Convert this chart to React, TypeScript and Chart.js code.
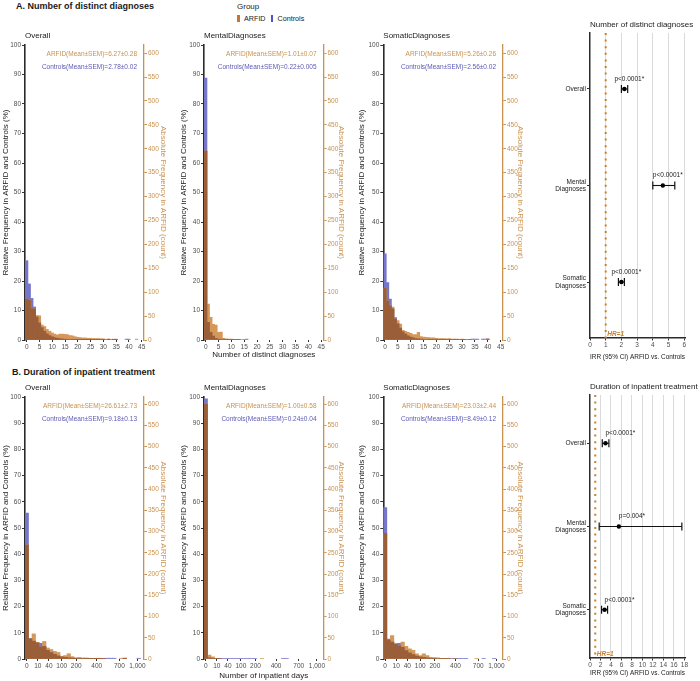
import React, { useEffect, useRef } from 'react';
import { Chart, registerables } from 'chart.js';

Chart.register(...registerables);

const FONT = '"Liberation Sans", Arial, Helvetica, sans-serif';
Chart.defaults.font.family = FONT;

// ---------------- categories / ticks ----------------
const countBins = Array.from({ length: 46 }, (_, i) => i); // number of distinct diagnoses (bin centres)
const countTicks = [0, 5, 10, 15, 20, 25, 30, 35, 40, 45];
const sqrtDayBins = Array.from({ length: 34 }, (_, i) => i); // bin centres on the sqrt(days) axis
const dayTickLabels = [0, 10, 40, 100, 200, 400, 700, 1000];
const relTicks = [0, 10, 20, 30, 40, 50, 60, 70, 80, 90, 100];
const absTicks = [0, 50, 100, 150, 200, 250, 300, 350, 400, 450, 500, 550, 600];
const ARFID_N = 617;

const panelTitles = ['Overall', 'MentalDiagnoses', 'SomaticDiagnoses'];
const countArfidStats = ['6.27±0.28', '1.01±0.07', '5.26±0.26'];
const countControlStats = ['2.78±0.02', '0.22±0.005', '2.56±0.02'];
const dayArfidStats = ['26.61±2.73', '1.00±0.58', '23.03±2.44'];
const dayControlStats = ['9.18±0.13', '0.24±0.04', '8.49±0.12'];

// ---------------- A: number of distinct diagnoses (% per bin) ----------------
const overallCountArfid = [13.9, 13.5, 10.6, 10.5, 8.3, 8.2, 5.1, 4.6, 3.6, 3.0, 2.4, 2.0, 1.7, 2.0, 2.0, 1.9, 1.8, 1.5, 1.4, 1.1, 0.9, 0.8, 0.7, 0.7, 0.6, 0.6, 0.5, 0.5, 0.5, 0.4, 0.4, 0, 0.4, 0, 0.3, 0.3, 0, 0, 0, 0, 0, 0, 0, 0.3, 0, 0];
const overallCountControls = [26.9, 19.0, 14.1, 11.2, 7.8, 5.8, 4.2, 3.0, 2.1, 1.5, 1.1, 0.8, 0.6, 0.45, 0.35, 0.28, 0.22, 0.18, 0.14, 0.11, 0.09, 0.07, 0.06, 0.05, 0.04, 0.04, 0.03, 0.03, 0.02, 0.02, 0.02, 0.02, 0.01, 0.01, 0.01, 0.01, 0, 0, 0, 0.3, 0.3, 0, 0, 0, 0, 0];
const mentalCountArfid = [64.0, 12.2, 7.7, 5.3, 5.1, 2.6, 2.7, 0.6, 0.4, 0.3, 0.3, 0.2, 0.2, 0.2, 0.2, 0, 0, 0, 0, 0, 0, 0, 0, 0, 0, 0, 0, 0, 0, 0, 0, 0, 0, 0, 0, 0, 0, 0, 0, 0, 0, 0, 0, 0, 0, 0];
const mentalCountControls = [88.8, 6.0, 2.6, 1.3, 0.6, 0.3, 0.15, 0.08, 0.05, 0.03, 0.02, 0.01, 0.01, 0.01, 0, 0.01, 0.3, 0, 0, 0, 0, 0, 0, 0, 0, 0, 0, 0, 0, 0, 0, 0, 0, 0, 0, 0, 0, 0, 0, 0, 0, 0, 0, 0, 0, 0];
const somaticCountArfid = [17.6, 13.3, 11.6, 11.2, 7.1, 6.6, 5.4, 3.3, 2.9, 2.6, 2.3, 1.8, 1.8, 2.6, 1.2, 1.0, 0.9, 0.8, 0.7, 0.7, 0.6, 0.5, 0.5, 0.5, 0.4, 0.5, 0.3, 0.3, 0.3, 0.2, 0.3, 0.2, 0, 0.2, 0, 0, 0, 0, 0, 0, 0.3, 0, 0, 0, 0, 0];
const somaticCountControls = [29.2, 19.5, 13.9, 10.6, 7.6, 5.5, 4.0, 2.8, 2.0, 1.4, 1.0, 0.7, 0.5, 0.4, 0.3, 0.22, 0.16, 0.12, 0.09, 0.07, 0.05, 0.04, 0.03, 0.03, 0.02, 0.02, 0.02, 0.01, 0.01, 0.01, 0.01, 0.01, 0.01, 0.01, 0.3, 0.3, 0.3, 0, 0.3, 0.3, 0.3, 0, 0, 0, 0, 0];

// ---------------- B: inpatient days (% per sqrt-bin) ----------------
const overallDaysArfid = [43.5, 7.6, 9.6, 6.3, 4.6, 6.7, 4.2, 3.6, 2.9, 2.5, 1.0, 1.3, 2.0, 0.9, 0.5, 0.6, 0.4, 0.4, 0.3, 0.2, 0.3, 0.3, 0.2, 0, 0, 0, 0, 0.3, 0.3, 0, 0, 0, 0, 0];
const overallDaysControls = [55.7, 7.9, 6.8, 6.2, 6.0, 4.8, 3.3, 2.5, 1.8, 1.2, 0.8, 0.6, 0.45, 0.35, 0.25, 0.2, 0.15, 0.12, 0.1, 0.08, 0.06, 0.05, 0.04, 0.3, 0.3, 0.3, 0, 0, 0.3, 0, 0, 0, 0.3, 0];
const mentalDaysArfid = [97.2, 1.5, 0.8, 0.3, 0.2, 0, 0, 0, 0, 0, 0, 0, 0, 0, 0, 0, 0.3, 0, 0, 0, 0, 0, 0, 0, 0, 0, 0, 0, 0, 0, 0, 0, 0, 0];
const mentalDaysControls = [99.3, 0.4, 0.15, 0.06, 0.03, 0.3, 0.3, 0.3, 0.3, 0.3, 0.3, 0.3, 0.3, 0.3, 0.3, 0, 0, 0, 0, 0, 0, 0, 0.3, 0.3, 0, 0, 0, 0, 0, 0, 0, 0, 0, 0];
const somaticDaysArfid = [48.0, 7.2, 8.9, 5.7, 5.0, 6.5, 4.8, 3.9, 3.3, 2.0, 1.3, 2.0, 1.3, 0.6, 0.5, 0.4, 0.3, 0.3, 0.2, 0, 0.2, 0, 0, 0, 0, 0, 0.3, 0, 0, 0, 0, 0, 0, 0];
const somaticDaysControls = [57.8, 7.6, 6.5, 5.8, 6.0, 4.5, 3.2, 2.4, 1.7, 1.1, 0.8, 0.6, 0.4, 0.3, 0.25, 0.2, 0.15, 0.1, 0.1, 0.1, 0.3, 0.3, 0.3, 0.1, 0, 0, 0, 0, 0.3, 0, 0, 0.3, 0, 0];

// ---------------- forest plots ----------------
const forestRowLabels = [['Overall'], ['Mental', 'Diagnoses'], ['Somatic', 'Diagnoses']];
const countIrr = [2.19, 4.64, 2.0];
const countIrrLow = [2.0, 4.0, 1.81];
const countIrrHigh = [2.4, 5.4, 2.19];
const countP = ['p<0.0001*', 'p<0.0001*', 'p<0.0001*'];
const countIrrTicks = [0, 1, 2, 3, 4, 5, 6];
const dayIrr = [2.95, 5.5, 2.78];
const dayIrrLow = [2.34, 1.75, 2.2];
const dayIrrHigh = [3.6, 17.5, 3.35];
const dayP = ['p<0.0001*', 'p=0.004*', 'p<0.0001*'];
const dayIrrTicks = [0, 2, 4, 6, 8, 10, 12, 14, 16, 18];
const HR_REF = 1;

// ---------------- colours ----------------
const C_OVERLAP = '#9A5E38';
const C_ARFID_BAR = '#D6975B';
const C_CTRL_BAR = '#7676CB';
const TAN = '#C9924F';
const CTRL_TEXT = '#5B5BB5';
const HR_ORANGE = '#C8802E';
const DARK = '#1a1a1a';
const TICK = '#4d4d4d';

const histText = {
  id: 'histText',
  afterDraw(chart: any, _a: any, opts: any) {
    const { ctx, chartArea: a } = chart;
    ctx.save();
    ctx.textBaseline = 'middle';
    ctx.textAlign = 'left';
    ctx.fillStyle = DARK;
    ctx.font = `8px ${FONT}`;
    ctx.fillText(opts.title, a.left, a.top - 9);
    ctx.textAlign = 'right';
    ctx.font = `6.5px ${FONT}`;
    ctx.fillStyle = TAN;
    ctx.fillText(`ARFID(Mean±SEM)=${opts.arfid}`, a.right - 7, a.top + 9);
    ctx.fillStyle = CTRL_TEXT;
    ctx.fillText(`Controls(Mean±SEM)=${opts.ctrl}`, a.right - 7, a.top + 22.5);
    ctx.restore();
  },
};

const forestText = {
  id: 'forestText',
  afterDatasetsDraw(chart: any, _a: any, opts: any) {
    const { ctx, chartArea: a, scales } = chart;
    const x = scales.x;
    const y = scales.y;
    ctx.save();
    ctx.textBaseline = 'middle';
    ctx.textAlign = 'left';
    ctx.fillStyle = DARK;
    ctx.font = `8px ${FONT}`;
    ctx.fillText(opts.title, a.left, a.top - 8);
    ctx.font = `6.5px ${FONT}`;
    opts.est.forEach((e: number, i: number) => {
      ctx.fillText(opts.p[i], x.getPixelForValue(e) + opts.pShift, y.getPixelForValue(i + 1) - 10);
    });
    ctx.font = `italic bold 6.5px ${FONT}`;
    ctx.fillStyle = HR_ORANGE;
    ctx.textBaseline = 'bottom';
    ctx.fillText('HR=1', x.getPixelForValue(HR_REF) + 1.5, a.bottom - 0.5);
    ctx.restore();
  },
};

function histConfig(o: any) {
  const overlap = o.arfid.map((v: number, i: number) => Math.min(v, o.ctrl[i]));
  const mk = (arr: number[]) => arr.map((v, i) => ({ x: o.bins[i], y: v > 0 ? v : null }));
  return {
    type: 'bar',
    data: {
      datasets: [
        { label: 'Both', data: mk(overlap), backgroundColor: C_OVERLAP, yAxisID: 'y' },
        { label: 'ARFID', data: mk(o.arfid), backgroundColor: C_ARFID_BAR, yAxisID: 'y' },
        { label: 'Controls', data: mk(o.ctrl), backgroundColor: C_CTRL_BAR, yAxisID: 'y' },
      ],
    },
    options: {
      animation: false,
      responsive: false,
      events: [],
      layout: { padding: { top: o.padTop, left: 0, right: 0, bottom: 0 } },
      datasets: { bar: { grouped: false, barPercentage: 1, categoryPercentage: 1, borderWidth: 0 } },
      plugins: {
        legend: { display: false },
        tooltip: { enabled: false },
        histText: { title: o.title, arfid: o.arfidStat, ctrl: o.ctrlStat },
      },
      scales: {
        x: {
          type: 'linear',
          position: 'bottom',
          min: o.xMin,
          max: o.xMax,
          offset: false,
          afterFit: (s: any) => { s.height = o.xAxisH; },
          afterBuildTicks: (s: any) => { s.ticks = o.xTicks.map((v: number) => ({ value: v })); },
          ticks: { autoSkip: false, maxRotation: 0, minRotation: 0, padding: 1, font: { size: 6.5 }, color: TICK, callback: (v: number) => o.xLabel(v) },
          grid: { drawOnChartArea: false, drawTicks: true, tickLength: 2, tickColor: '#333', offset: false },
          border: { display: false },
          title: { display: !!o.xTitle, text: o.xTitle || '', font: { size: 8 }, color: DARK, padding: { top: 0, bottom: 0 } },
        },
        y: {
          position: 'left',
          min: 0,
          max: 100,
          afterFit: (s: any) => { s.width = o.leftW; },
          afterBuildTicks: (s: any) => { s.ticks = relTicks.map((v) => ({ value: v })); },
          ticks: { padding: 1, font: { size: 6.5 }, color: TICK },
          grid: { drawOnChartArea: false, drawTicks: true, tickLength: 3, tickColor: '#333' },
          border: { display: true, color: '#2b2b2b', width: 1.6 },
          title: { display: true, text: 'Relative Frequency in ARFID and Controls (%)', font: { size: 8 }, color: DARK, padding: { top: o.leftTitlePad, bottom: 0 } },
        },
        y1: {
          position: 'right',
          min: 0,
          max: ARFID_N,
          afterFit: (s: any) => { s.width = o.rightW; },
          afterBuildTicks: (s: any) => { s.ticks = absTicks.map((v) => ({ value: v })); },
          ticks: { padding: 1, font: { size: 6.5 }, color: TAN },
          grid: { drawOnChartArea: false, drawTicks: true, tickLength: 3, tickColor: TAN },
          border: { display: true, color: TAN, width: 1.3 },
          title: { display: true, text: 'Absolute Frequency in ARFID (count)', font: { size: 8 }, color: TAN, padding: { top: o.rightTitlePad, bottom: 0 } },
        },
      },
    },
    plugins: [histText],
  };
}

function forestConfig(o: any) {
  const yMin = 0.42;
  const yMax = 3.58;
  const rows = o.est.map((_: number, i: number) => i + 1);
  const ciSets = o.est.map((_: number, i: number) => ({
    data: [{ x: o.lo[i], y: rows[i] }, { x: o.hi[i], y: rows[i] }],
    showLine: true,
    borderColor: '#111',
    borderWidth: 1.1,
    pointStyle: 'line',
    pointRotation: 90,
    pointRadius: 4,
    pointBorderWidth: 1.2,
    pointBorderColor: '#111',
    pointBackgroundColor: '#111',
  }));
  return {
    type: 'scatter',
    data: {
      datasets: [
        { data: o.est.map((e: number, i: number) => ({ x: e, y: rows[i] })), pointRadius: 2.2, pointBackgroundColor: '#000', pointBorderColor: '#000', pointBorderWidth: 0 },
        ...ciSets,
        { data: [{ x: HR_REF, y: yMin }, { x: HR_REF, y: yMax }], showLine: true, borderColor: HR_ORANGE, borderWidth: 2, borderDash: [2, 4.6], pointRadius: 0 },
      ],
    },
    options: {
      animation: false,
      responsive: false,
      events: [],
      layout: { padding: { top: o.padTop, left: 0, right: o.padRight, bottom: 0 } },
      plugins: {
        legend: { display: false },
        tooltip: { enabled: false },
        forestText: { title: o.title, est: o.est, p: o.p, pShift: o.pShift },
      },
      scales: {
        x: {
          type: 'linear',
          min: 0,
          max: o.xMax,
          afterFit: (s: any) => { s.height = o.xAxisH; },
          afterBuildTicks: (s: any) => { s.ticks = o.xTicks.map((v: number) => ({ value: v })); },
          ticks: { autoSkip: false, maxRotation: 0, padding: 1, font: { size: 6.5 }, color: TICK },
          grid: {
            drawOnChartArea: true,
            drawTicks: true,
            tickLength: 2.5,
            tickColor: '#333',
            lineWidth: 1,
            color: (c: any) => (c.tick && c.tick.value > 0 ? '#dadada' : 'rgba(0,0,0,0)'),
          },
          border: { display: true, color: '#2b2b2b', width: 1.5 },
          title: { display: true, text: 'IRR (95% CI) ARFID vs. Controls', font: { size: 8 }, color: DARK, padding: { top: 0, bottom: o.xTitlePad } },
        },
        y: {
          type: 'linear',
          min: yMin,
          max: yMax,
          reverse: true,
          afterFit: (s: any) => { s.width = o.leftW; },
          afterBuildTicks: (s: any) => { s.ticks = rows.map((v: number) => ({ value: v })); },
          ticks: { padding: 1, font: { size: 6.5, lineHeight: 1.15 }, color: DARK, callback: (v: number) => forestRowLabels[Math.round(v) - 1] },
          grid: { drawOnChartArea: false, drawTicks: true, tickLength: 3, tickColor: '#333' },
          border: { display: true, color: '#2b2b2b', width: 1.5 },
        },
      },
    },
    plugins: [forestText],
  };
}

function ChartCanvas({ x, y, w, h, make }: any) {
  const ref = useRef<HTMLCanvasElement>(null);
  useEffect(() => {
    const chart = new Chart(ref.current as HTMLCanvasElement, make());
    return () => chart.destroy();
  }, []);
  return <canvas ref={ref} width={w} height={h} style={{ position: 'absolute', left: x, top: y, width: w, height: h }} />;
}

const countCols = [
  { x: 0, w: 172, leftW: 25, rightW: 28, leftTitlePad: 0.5, rightTitlePad: 3.9 },
  { x: 172, w: 178, leftW: 32, rightW: 26.5, leftTitlePad: 6.5, rightTitlePad: 3.5 },
  { x: 350, w: 180, leftW: 33.3, rightW: 27, leftTitlePad: 6.9, rightTitlePad: 4.5 },
];

const countData = [
  [overallCountArfid, overallCountControls],
  [mentalCountArfid, mentalCountControls],
  [somaticCountArfid, somaticCountControls],
];
const dayData = [
  [overallDaysArfid, overallDaysControls],
  [mentalDaysArfid, mentalDaysControls],
  [somaticDaysArfid, somaticDaysControls],
];

export default function App() {
  const text = (s: string, left: number, top: number, size: number, extra: any = {}) => (
    <div style={{ position: 'absolute', left, top, fontSize: size, lineHeight: `${size + 2}px`, whiteSpace: 'nowrap', color: DARK, ...extra }}>{s}</div>
  );
  return (
    <div style={{ position: 'absolute', left: 0, top: 0, width: 700, height: 681, background: '#fff', fontFamily: FONT, overflow: 'hidden' }}>
      {text('A. Number of distinct diagnoses', 16, 1, 9, { fontWeight: 'bold' })}
      {text('B. Duration of inpatient treatment', 12, 367, 9, { fontWeight: 'bold' })}
      {text('Group', 237, 1.5, 8)}
      <div style={{ position: 'absolute', left: 237, top: 15, width: 2.6, height: 6.8, background: '#C87533' }} />
      {text('ARFID', 244, 13.8, 7.2)}
      <div style={{ position: 'absolute', left: 270.5, top: 15, width: 2.6, height: 6.8, background: '#5050C8' }} />
      {text('Controls', 277.5, 13.8, 7.2)}

      {countCols.map((c, i) => (
        <ChartCanvas
          key={'a' + i}
          x={c.x}
          y={30}
          w={c.w}
          h={330}
          make={() =>
            histConfig({
              bins: countBins,
              arfid: countData[i][0],
              ctrl: countData[i][1],
              xMin: -0.66,
              xMax: 45.9,
              xTicks: countTicks,
              xLabel: (v: number) => String(v),
              xTitle: i === 1 ? 'Number of distinct diagnoses' : '',
              title: panelTitles[i],
              arfidStat: countArfidStats[i],
              ctrlStat: countControlStats[i],
              padTop: 15,
              xAxisH: 20,
              leftW: c.leftW,
              rightW: c.rightW,
              leftTitlePad: c.leftTitlePad,
              rightTitlePad: c.rightTitlePad,
            })
          }
        />
      ))}

      {countCols.map((c, i) => (
        <ChartCanvas
          key={'b' + i}
          x={c.x}
          y={375}
          w={c.w}
          h={306}
          make={() =>
            histConfig({
              bins: sqrtDayBins,
              arfid: dayData[i][0],
              ctrl: dayData[i][1],
              xMin: -0.5,
              xMax: 33.5,
              xTicks: dayTickLabels.map((d) => Math.sqrt(d)),
              xLabel: (v: number) => Math.round(v * v).toLocaleString('en-US'),
              xTitle: i === 1 ? 'Number of inpatient days' : '',
              title: panelTitles[i],
              arfidStat: dayArfidStats[i],
              ctrlStat: dayControlStats[i],
              padTop: 22,
              xAxisH: 22,
              leftW: c.leftW,
              rightW: c.rightW,
              leftTitlePad: c.leftTitlePad,
              rightTitlePad: c.rightTitlePad,
            })
          }
        />
      ))}

      <ChartCanvas
        x={535}
        y={0}
        w={165}
        h={362}
        make={() =>
          forestConfig({
            title: 'Number of distinct diagnoses',
            est: countIrr,
            lo: countIrrLow,
            hi: countIrrHigh,
            p: countP,
            pShift: -10,
            xTicks: countIrrTicks,
            xMax: 6.05,
            padTop: 33,
            padRight: 15,
            leftW: 55,
            xAxisH: 24,
            xTitlePad: 0,
          })
        }
      />
      <ChartCanvas
        x={535}
        y={370}
        w={165}
        h={311}
        make={() =>
          forestConfig({
            title: 'Duration of inpatient treatment',
            est: dayIrr,
            lo: dayIrrLow,
            hi: dayIrrHigh,
            p: dayP,
            pShift: 0,
            xTicks: dayIrrTicks,
            xMax: 18.1,
            padTop: 25,
            padRight: 15,
            leftW: 55,
            xAxisH: 23,
            xTitlePad: 3,
          })
        }
      />
    </div>
  );
}
